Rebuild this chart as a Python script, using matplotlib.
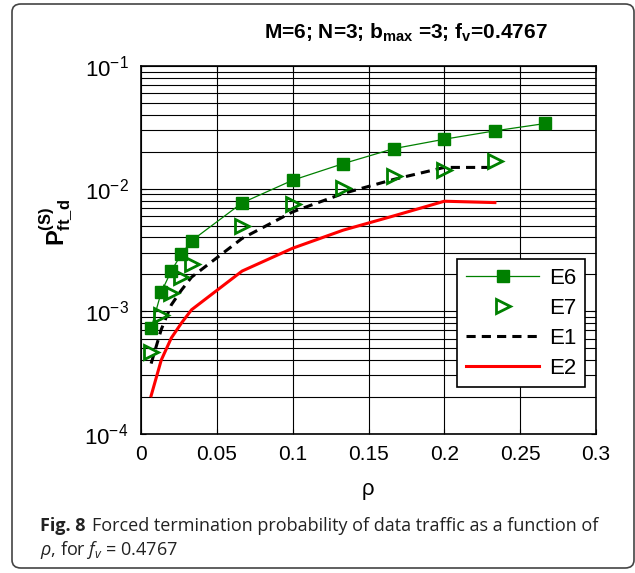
import matplotlib
matplotlib.use("Agg")
import matplotlib.pyplot as plt
from matplotlib.patches import FancyBboxPatch
from matplotlib.ticker import LogLocator, NullFormatter

plt.rcParams['font.family'] = ['Liberation Sans', 'DejaVu Sans']
plt.rcParams['axes.unicode_minus'] = False
plt.rcParams['mathtext.fontset'] = 'custom'
plt.rcParams['mathtext.rm'] = 'Liberation Sans'
plt.rcParams['mathtext.bf'] = 'Liberation Sans:bold'
plt.rcParams['mathtext.it'] = 'Open Sans:italic'

# ---- data ----
rho_e6 = [0.00667, 0.01333, 0.02, 0.02667, 0.03333, 0.06667, 0.1, 0.13333, 0.16667, 0.2, 0.23333, 0.26667]
p_e6 = [0.000728, 0.00143, 0.00214, 0.00293, 0.00376, 0.00766, 0.01172, 0.0160, 0.0212, 0.0253, 0.0296, 0.0340]

rho_e7 = [0.00667, 0.01333, 0.02, 0.02667, 0.03333, 0.06667, 0.1, 0.13333, 0.16667, 0.2, 0.23333]
p_e7 = [0.000469, 0.000933, 0.00142, 0.00191, 0.00243, 0.00496, 0.00748, 0.01015, 0.01265, 0.01432, 0.01683]

rho_e1 = [0.00667, 0.01333, 0.02, 0.02667, 0.03333, 0.06667, 0.1, 0.13333, 0.16667, 0.2, 0.23333]
p_e1 = [0.000375, 0.00071, 0.00113, 0.00149, 0.0019, 0.00393, 0.00647, 0.00914, 0.0119, 0.0149, 0.0149]

rho_e2 = [0.00667, 0.01333, 0.02, 0.02667, 0.03333, 0.06667, 0.1, 0.13333, 0.16667, 0.2, 0.23333]
p_e2 = [0.000205, 0.0004, 0.000607, 0.000803, 0.00103, 0.00213, 0.00327, 0.00459, 0.006, 0.0079, 0.0077]

x_ticks = [0, 0.05, 0.1, 0.15, 0.2, 0.25, 0.3]
x_ticklabels = ['0', '0.05', '0.1', '0.15', '0.2', '0.25', '0.3']

W, H = 635, 573
fig = plt.figure(figsize=(W / 100, H / 100), dpi=100)
ax = fig.add_axes([141 / W, 1 - 434 / H, 455 / W, 368 / H])

green = '#008000'
ax.plot(rho_e6, p_e6, color=green, lw=0.9, marker='s', ms=9, mfc=green, mec=green, label='E6', zorder=5)
ax.plot(rho_e7, p_e7, ls='none', marker='>', ms=10, mfc='none', mec=green, mew=2, label='E7', zorder=5)
ax.plot(rho_e1, p_e1, color='black', ls=(0, (3, 2)), lw=2.2, label='E1', zorder=4)
ax.plot(rho_e2, p_e2, color='red', lw=2.2, label='E2', zorder=4)

ax.set_yscale('log')
ax.set_xlim(0, 0.3)
ax.set_ylim(1e-4, 1e-1)
ax.set_xticks(x_ticks)
ax.set_xticklabels(x_ticklabels)
ax.yaxis.set_major_locator(LogLocator(base=10, numticks=10))
ax.yaxis.set_minor_locator(LogLocator(base=10, subs=range(2, 10), numticks=20))
ax.yaxis.set_minor_formatter(NullFormatter())

ax.grid(True, which='major', color='black', lw=0.8)
ax.grid(True, which='minor', axis='y', color='black', lw=0.8)
ax.set_axisbelow(True)
ax.tick_params(which='both', direction='in', top=True, right=True, labelsize=15, pad=8)
ax.tick_params(axis='y', labelsize=16, pad=9)
ax.tick_params(which='minor', length=3)
for s in ax.spines.values():
    s.set_linewidth(1.2)

leg = ax.legend(loc='upper left', bbox_to_anchor=((457 - 141) / 455, (434 - 259) / 368),
                borderaxespad=0, fontsize=16, frameon=True, fancybox=False,
                edgecolor='black', handlelength=3.3, labelspacing=0.4,
                borderpad=0.4, handletextpad=0.45)
leg.get_frame().set_linewidth(1.2)
leg.get_frame().set_alpha(1)

fig.text(406 / W, 1 - 33 / H, r'M=6; N=3; b$_{\mathbf{max}}$ =3; f$_{\mathbf{v}}$=0.4767',
         ha='center', va='center', fontsize=15, fontweight='bold')

fig.text(56 / W, 1 - 222 / H, r'$\mathbf{P^{(S)}_{ft\_d}}$', rotation=90,
         ha='center', va='center', fontsize=17)

fig.text(368 / W, 1 - 490 / H, 'ρ', ha='center', va='center', fontsize=16)

cap_color = '#222222'
t1 = fig.text(40 / W, 1 - 526 / H, 'Fig. 8', ha='left', va='center', fontsize=13,
              family='Open Sans', fontweight='bold', color=cap_color)
fig.canvas.draw()
bb = t1.get_window_extent()
fig.text((bb.x1 + 6) / W, 1 - 526 / H,
         'Forced termination probability of data traffic as a function of',
         ha='left', va='center', fontsize=13, family='Open Sans', color=cap_color)
fig.text(40 / W, 1 - 550 / H, r'$\rho$, for $f_v$ = 0.4767', ha='left', va='center',
         fontsize=13, family='Open Sans', color=cap_color)

border = FancyBboxPatch((12 / W, 5 / H), (634 - 12) / W, (569 - 5) / H,
                        boxstyle='round,pad=0,rounding_size=0.014',
                        transform=fig.transFigure, fill=False, edgecolor='#444444', lw=1.2)
fig.patches.append(border)

fig.savefig('out.png', dpi=100)
